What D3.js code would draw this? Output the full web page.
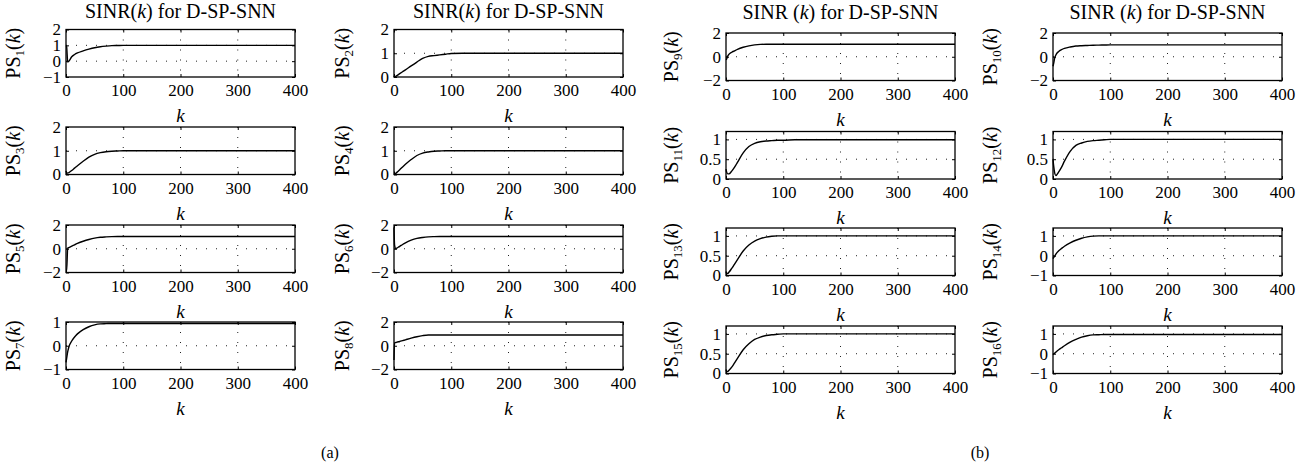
<!DOCTYPE html>
<html>
<head>
<meta charset="utf-8">
<script src="https://cdn.jsdelivr.net/npm/d3@7"></script>
<style>
body { margin: 0; background: #fff; }
svg text { font-family: "Liberation Serif", "Times New Roman", serif; fill: #000; }
</style>
</head>
<body>
<svg id="chart" width="1310" height="465"></svg>
<script>
"use strict";

// sample points k (shared by every series)
var kSteps = [0, 1, 3, 5, 10, 15, 20, 30, 40, 50, 60, 70, 80, 90, 100, 120, 400];

var ps1  = [1.0, 0.95, -0.05, 0.0, 0.28, 0.42, 0.52, 0.65, 0.76, 0.85, 0.91, 0.95, 0.98, 0.99, 1.0, 1.0, 1.0];
var ps2  = [0.05, 0.0, 0.03, 0.06, 0.14, 0.22, 0.3, 0.47, 0.63, 0.78, 0.87, 0.9, 0.93, 0.96, 0.99, 1.0, 1.0];
var ps3  = [0.15, 0.08, 0.06, 0.08, 0.17, 0.27, 0.37, 0.56, 0.73, 0.85, 0.92, 0.96, 0.98, 0.99, 1.0, 1.0, 1.0];
var ps4  = [0.02, 0.02, 0.05, 0.09, 0.2, 0.32, 0.43, 0.63, 0.8, 0.9, 0.95, 0.98, 0.99, 1.0, 1.0, 1.0, 1.0];
var ps5  = [-1.9, -1.9, 0.05, 0.1, 0.22, 0.33, 0.45, 0.63, 0.78, 0.9, 0.97, 1.0, 1.02, 1.03, 1.03, 1.03, 1.03];
var ps6  = [1.8, 0.3, 0.0, 0.06, 0.2, 0.36, 0.5, 0.72, 0.87, 0.95, 1.0, 1.02, 1.03, 1.03, 1.03, 1.03, 1.03];
var ps7  = [-0.7, -0.55, -0.25, -0.05, 0.2, 0.37, 0.5, 0.68, 0.8, 0.88, 0.92, 0.93, 0.94, 0.94, 0.94, 0.94, 0.94];
var ps8  = [-1.2, 0.25, 0.27, 0.3, 0.36, 0.43, 0.5, 0.64, 0.76, 0.85, 0.9, 0.9, 0.9, 0.9, 0.9, 0.9, 0.9];
var ps9  = [-0.25, -0.2, 0.05, 0.2, 0.38, 0.5, 0.62, 0.8, 0.92, 1.0, 1.04, 1.05, 1.05, 1.05, 1.05, 1.05, 1.05];
var ps10 = [-0.8, -0.6, -0.1, 0.15, 0.45, 0.6, 0.7, 0.82, 0.9, 0.93, 0.95, 0.97, 0.98, 0.99, 1.0, 1.0, 1.0];
var ps11 = [0.25, 0.18, 0.13, 0.13, 0.2, 0.3, 0.42, 0.66, 0.82, 0.9, 0.94, 0.96, 0.97, 0.98, 0.98, 0.99, 0.99];
var ps12 = [0.5, 0.35, 0.15, 0.09, 0.18, 0.3, 0.45, 0.7, 0.85, 0.91, 0.95, 0.97, 0.98, 0.99, 1.0, 1.0, 1.0];
var ps13 = [0.1, 0.06, 0.05, 0.08, 0.18, 0.29, 0.4, 0.62, 0.77, 0.87, 0.93, 0.97, 0.99, 1.0, 1.0, 1.0, 1.0];
var ps14 = [-0.15, -0.1, -0.02, 0.08, 0.25, 0.37, 0.48, 0.65, 0.78, 0.88, 0.95, 0.99, 1.0, 1.0, 1.0, 1.0, 1.0];
var ps15 = [0.1, 0.06, 0.05, 0.08, 0.16, 0.27, 0.38, 0.6, 0.75, 0.86, 0.92, 0.96, 0.98, 0.99, 1.0, 1.0, 1.0];
var ps16 = [-0.05, -0.02, 0.03, 0.08, 0.2, 0.3, 0.4, 0.58, 0.72, 0.84, 0.91, 0.95, 0.96, 0.97, 0.97, 0.97, 0.97];

var series = [ps1, ps2, ps3, ps4, ps5, ps6, ps7, ps8, ps9, ps10, ps11, ps12, ps13, ps14, ps15, ps16];

var xTicks = [0, 100, 200, 300, 400];
var yDomains = [
	[-1, 2], [0, 2], [0, 2], [0, 2], [-2, 2], [-2, 2], [-1, 1], [-2, 2],
	[-2, 2], [-2, 2], [0, 1.2], [0, 1.2], [0, 1.2], [-1, 1.4], [0, 1.2], [-1, 1.4]
];
var yTicks = [
	[-1, 0, 1, 2], [0, 1, 2], [0, 1, 2], [0, 1, 2], [-2, 0, 2], [-2, 0, 2], [-1, 0, 1], [-2, 0, 2],
	[-2, 0, 2], [-2, 0, 2], [0, 0.5, 1], [0, 0.5, 1], [0, 0.5, 1], [-1, 0, 1], [0, 0.5, 1], [-1, 0, 1]
];

// layout
var colLeft = [66, 394, 726, 1053];
var labelX = [20, 349, 678, 997];
var rowTopA = [29.5, 127, 225, 322];
var rowTopB = [33, 131.5, 228, 326];
var plotW = 229, plotH = 47.5;
var serif = "Liberation Serif, Times New Roman, serif";

var svg = d3.select("#chart");

function fmt(d) {
	return (d < 0 ? "\u2212" : "") + Math.abs(d);
}

function drawPanel(i) {
	var col, row;
	if (i < 8) {
		col = i % 2; row = Math.floor(i / 2);
	} else {
		col = 2 + (i - 8) % 2; row = Math.floor((i - 8) / 2);
	}
	var x0 = colLeft[col];
	var y0 = (col < 2 ? rowTopA : rowTopB)[row];

	var x = d3.scaleLinear().domain([0, 400]).range([0, plotW]);
	var y = d3.scaleLinear().domain(yDomains[i]).range([plotH, 0]);

	var g = svg.append("g").attr("transform", "translate(" + x0 + "," + y0 + ")");

	// dotted grid
	g.append("g").selectAll("line").data(xTicks.slice(1, -1)).join("line")
		.attr("x1", function(d) { return x(d); }).attr("x2", function(d) { return x(d); })
		.attr("y1", 0).attr("y2", plotH)
		.attr("stroke", "#222").attr("stroke-width", 1).attr("stroke-dasharray", "1,9");
	g.append("g").selectAll("line")
		.data(yTicks[i].filter(function(d) { return d > yDomains[i][0] && d < yDomains[i][1]; }))
		.join("line")
		.attr("x1", 0).attr("x2", plotW)
		.attr("y1", function(d) { return y(d); }).attr("y2", function(d) { return y(d); })
		.attr("stroke", "#222").attr("stroke-width", 1).attr("stroke-dasharray", "1,9");

	// axes, ticks pointing inward
	var bottom = g.append("g").attr("transform", "translate(0," + plotH + ")")
		.call(d3.axisBottom(x).tickValues(xTicks).tickSize(-3).tickPadding(7).tickFormat(fmt));
	var top = g.append("g")
		.call(d3.axisTop(x).tickValues(xTicks).tickSize(-3).tickFormat(""));
	var left = g.append("g")
		.call(d3.axisLeft(y).tickValues(yTicks[i]).tickSize(-3).tickPadding(5).tickFormat(fmt));
	var right = g.append("g").attr("transform", "translate(" + plotW + ",0)")
		.call(d3.axisRight(y).tickValues(yTicks[i]).tickSize(-3).tickFormat(""));
	[bottom, top, left, right].forEach(function(a) {
		a.select(".domain").remove();
		a.attr("font-family", serif).attr("font-size", 17);
		a.selectAll("text").attr("font-family", serif).attr("font-size", 17).attr("fill", "#000");
		a.selectAll("line").attr("stroke", "#000").attr("stroke-width", 1);
	});

	// curve
	var line = d3.line()
		.x(function(d) { return x(d[0]); })
		.y(function(d) { return y(d[1]); })
		.curve(d3.curveMonotoneX);
	g.append("path")
		.datum(d3.zip(kSteps, series[i]))
		.attr("d", line)
		.attr("fill", "none")
		.attr("stroke", "#000")
		.attr("stroke-width", 1.4);

	// box
	g.append("rect").attr("width", plotW).attr("height", plotH)
		.attr("fill", "none").attr("stroke", "#000").attr("stroke-width", 1.3);

	// x label
	g.append("text").attr("x", plotW / 2).attr("y", plotH + 45)
		.attr("text-anchor", "middle").attr("font-size", 19)
		.attr("font-style", "italic").text("k");

	// y label PS_n(k)
	var yl = svg.append("text")
		.attr("transform", "translate(" + labelX[col] + "," + (y0 + plotH / 2) + ") rotate(-90)")
		.attr("text-anchor", "middle").attr("font-size", 20);
	yl.append("tspan").text("PS");
	yl.append("tspan").attr("font-size", 13).attr("dy", 4).text(i + 1);
	yl.append("tspan").attr("dy", -4).text("(");
	yl.append("tspan").attr("font-style", "italic").text("k");
	yl.append("tspan").text(")");

	// titles on first row
	if (row === 0) {
		var t = svg.append("text")
			.attr("x", x0 + plotW / 2).attr("y", col < 2 ? 18 : 19)
			.attr("text-anchor", "middle").attr("font-size", 20);
		t.append("tspan").text(col < 2 ? "SINR(" : "SINR (");
		t.append("tspan").attr("font-style", "italic").text("k");
		t.append("tspan").text(") for D-SP-SNN");
	}
}

for (var i = 0; i < series.length; i++) {
	drawPanel(i);
}

svg.append("text").attr("x", 330).attr("y", 458).attr("text-anchor", "middle")
	.attr("font-size", 16).text("(a)");
svg.append("text").attr("x", 980).attr("y", 458).attr("text-anchor", "middle")
	.attr("font-size", 16).text("(b)");
</script>
</body>
</html>
